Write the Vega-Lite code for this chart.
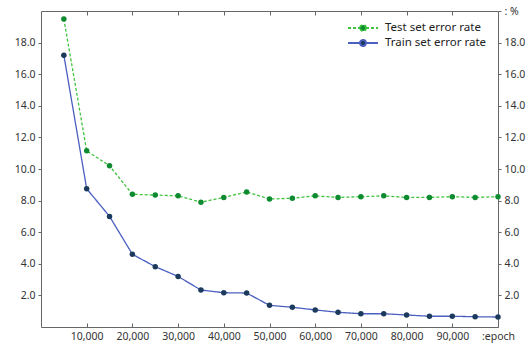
{
  "$schema": "https://vega.github.io/schema/vega-lite/v6.json",
  "width": 457,
  "height": 316,
  "autosize": {"type": "none"},
  "padding": {"left": 41, "top": 11, "right": 32, "bottom": 18},
  "background": "#ffffff",
  "config": {
    "view": {"stroke": null},
    "font": "Noto Sans",
    "axis": {"labelFont": "Noto Sans", "labelFontSize": 10.5, "labelColor": "#333333", "domainColor": "#666666", "tickColor": "#666666", "grid": false, "title": null, "domainWidth": 1, "labelOverlap": false},
    "legend": {"title": null, "orient": "top-right", "offset": 11, "labelFont": "Noto Sans", "labelFontSize": 11.5, "labelColor": "#222222", "rowPadding": 1, "symbolSize": 100, "symbolStrokeWidth": 2, "labelOffset": 16,
      "symbolType": "M-3,0L-0.6,0M0.6,0L3,0M0.6,0A0.6,0.6 0 1,1 -0.6,0A0.6,0.6 0 1,1 0.6,0"}
  },
  "data": {
    "values": [
      {"epoch": 5000, "series": "Test set error rate", "rate": 19.5},
      {"epoch": 10000, "series": "Test set error rate", "rate": 11.15},
      {"epoch": 15000, "series": "Test set error rate", "rate": 10.2},
      {"epoch": 20000, "series": "Test set error rate", "rate": 8.4},
      {"epoch": 25000, "series": "Test set error rate", "rate": 8.35},
      {"epoch": 30000, "series": "Test set error rate", "rate": 8.3},
      {"epoch": 35000, "series": "Test set error rate", "rate": 7.9},
      {"epoch": 40000, "series": "Test set error rate", "rate": 8.2},
      {"epoch": 45000, "series": "Test set error rate", "rate": 8.55},
      {"epoch": 50000, "series": "Test set error rate", "rate": 8.1},
      {"epoch": 55000, "series": "Test set error rate", "rate": 8.15},
      {"epoch": 60000, "series": "Test set error rate", "rate": 8.3},
      {"epoch": 65000, "series": "Test set error rate", "rate": 8.2},
      {"epoch": 70000, "series": "Test set error rate", "rate": 8.25},
      {"epoch": 75000, "series": "Test set error rate", "rate": 8.3},
      {"epoch": 80000, "series": "Test set error rate", "rate": 8.2},
      {"epoch": 85000, "series": "Test set error rate", "rate": 8.2},
      {"epoch": 90000, "series": "Test set error rate", "rate": 8.25},
      {"epoch": 95000, "series": "Test set error rate", "rate": 8.2},
      {"epoch": 100000, "series": "Test set error rate", "rate": 8.25},
      {"epoch": 5000, "series": "Train set error rate", "rate": 17.2},
      {"epoch": 10000, "series": "Train set error rate", "rate": 8.75},
      {"epoch": 15000, "series": "Train set error rate", "rate": 7.0},
      {"epoch": 20000, "series": "Train set error rate", "rate": 4.6},
      {"epoch": 25000, "series": "Train set error rate", "rate": 3.82},
      {"epoch": 30000, "series": "Train set error rate", "rate": 3.2},
      {"epoch": 35000, "series": "Train set error rate", "rate": 2.34},
      {"epoch": 40000, "series": "Train set error rate", "rate": 2.17},
      {"epoch": 45000, "series": "Train set error rate", "rate": 2.15},
      {"epoch": 50000, "series": "Train set error rate", "rate": 1.37},
      {"epoch": 55000, "series": "Train set error rate", "rate": 1.25},
      {"epoch": 60000, "series": "Train set error rate", "rate": 1.08},
      {"epoch": 65000, "series": "Train set error rate", "rate": 0.93},
      {"epoch": 70000, "series": "Train set error rate", "rate": 0.84},
      {"epoch": 75000, "series": "Train set error rate", "rate": 0.84},
      {"epoch": 80000, "series": "Train set error rate", "rate": 0.76},
      {"epoch": 85000, "series": "Train set error rate", "rate": 0.68},
      {"epoch": 90000, "series": "Train set error rate", "rate": 0.68},
      {"epoch": 95000, "series": "Train set error rate", "rate": 0.65},
      {"epoch": 100000, "series": "Train set error rate", "rate": 0.63}
    ]
  },
  "layer": [
    {
      "mark": {"type": "line", "strokeWidth": 1.3},
      "encoding": {
        "x": {"field": "epoch", "type": "quantitative", "scale": {"domain": [0, 100000], "nice": false},
          "axis": {"orient": "bottom", "values": [10000, 20000, 30000, 40000, 50000, 60000, 70000, 80000, 90000, 100000], "labelExpr": "datum.value == 100000 ? ':epoch' : format(datum.value, ',')", "tickSize": -4, "labelPadding": 8, "labelFlush": false}},
        "y": {"field": "rate", "type": "quantitative", "scale": {"domain": [0, 20], "nice": false},
          "axis": {"orient": "left", "values": [2, 4, 6, 8, 10, 12, 14, 16, 18], "format": ".1f", "tickSize": 3, "labelPadding": 3}},
        "stroke": {"field": "series", "type": "nominal",
          "scale": {"domain": ["Test set error rate", "Train set error rate"], "range": ["#3cc43c", "#4a5fbf"]}},
        "strokeDash": {"field": "series", "type": "nominal",
          "scale": {"domain": ["Test set error rate", "Train set error rate"], "range": [[3, 2], [1, 0]]}}
      }
    },
    {
      "mark": {"type": "point", "filled": true, "size": 30, "opacity": 1},
      "encoding": {
        "x": {"field": "epoch", "type": "quantitative", "scale": {"domain": [0, 100000], "nice": false}, "axis": null},
        "y": {"field": "rate", "type": "quantitative", "scale": {"domain": [0, 20], "nice": false}, "axis": null},
        "fill": {"field": "series", "type": "nominal",
          "scale": {"domain": ["Test set error rate", "Train set error rate"], "range": ["#0e8a30", "#1c3a5c"]}}
      }
    },
    {
      "mark": {"type": "point", "opacity": 0},
      "encoding": {
        "x": {"field": "epoch", "type": "quantitative", "scale": {"domain": [0, 100000], "nice": false},
          "axis": {"orient": "top", "values": [10000, 20000, 30000, 40000, 50000, 60000, 70000, 80000, 90000], "labels": false, "tickSize": -4}},
        "y": {"field": "rate", "type": "quantitative", "scale": {"domain": [0, 20], "nice": false},
          "axis": {"orient": "right", "values": [2, 4, 6, 8, 10, 12, 14, 16, 18, 20], "labelExpr": "datum.value == 20 ? ': %' : format(datum.value, '.1f')", "tickSize": 3, "labelPadding": 3,
            "encode": {"labels": {"update": {"dy": {"signal": "datum.value == 20 ? 13 : 0"}}}, "ticks": {"update": {"opacity": {"signal": "datum.value == 20 ? 0 : 1"}}}}}}
      }
    }
  ],
  "resolve": {"scale": {"x": "independent", "y": "independent"}}
}
